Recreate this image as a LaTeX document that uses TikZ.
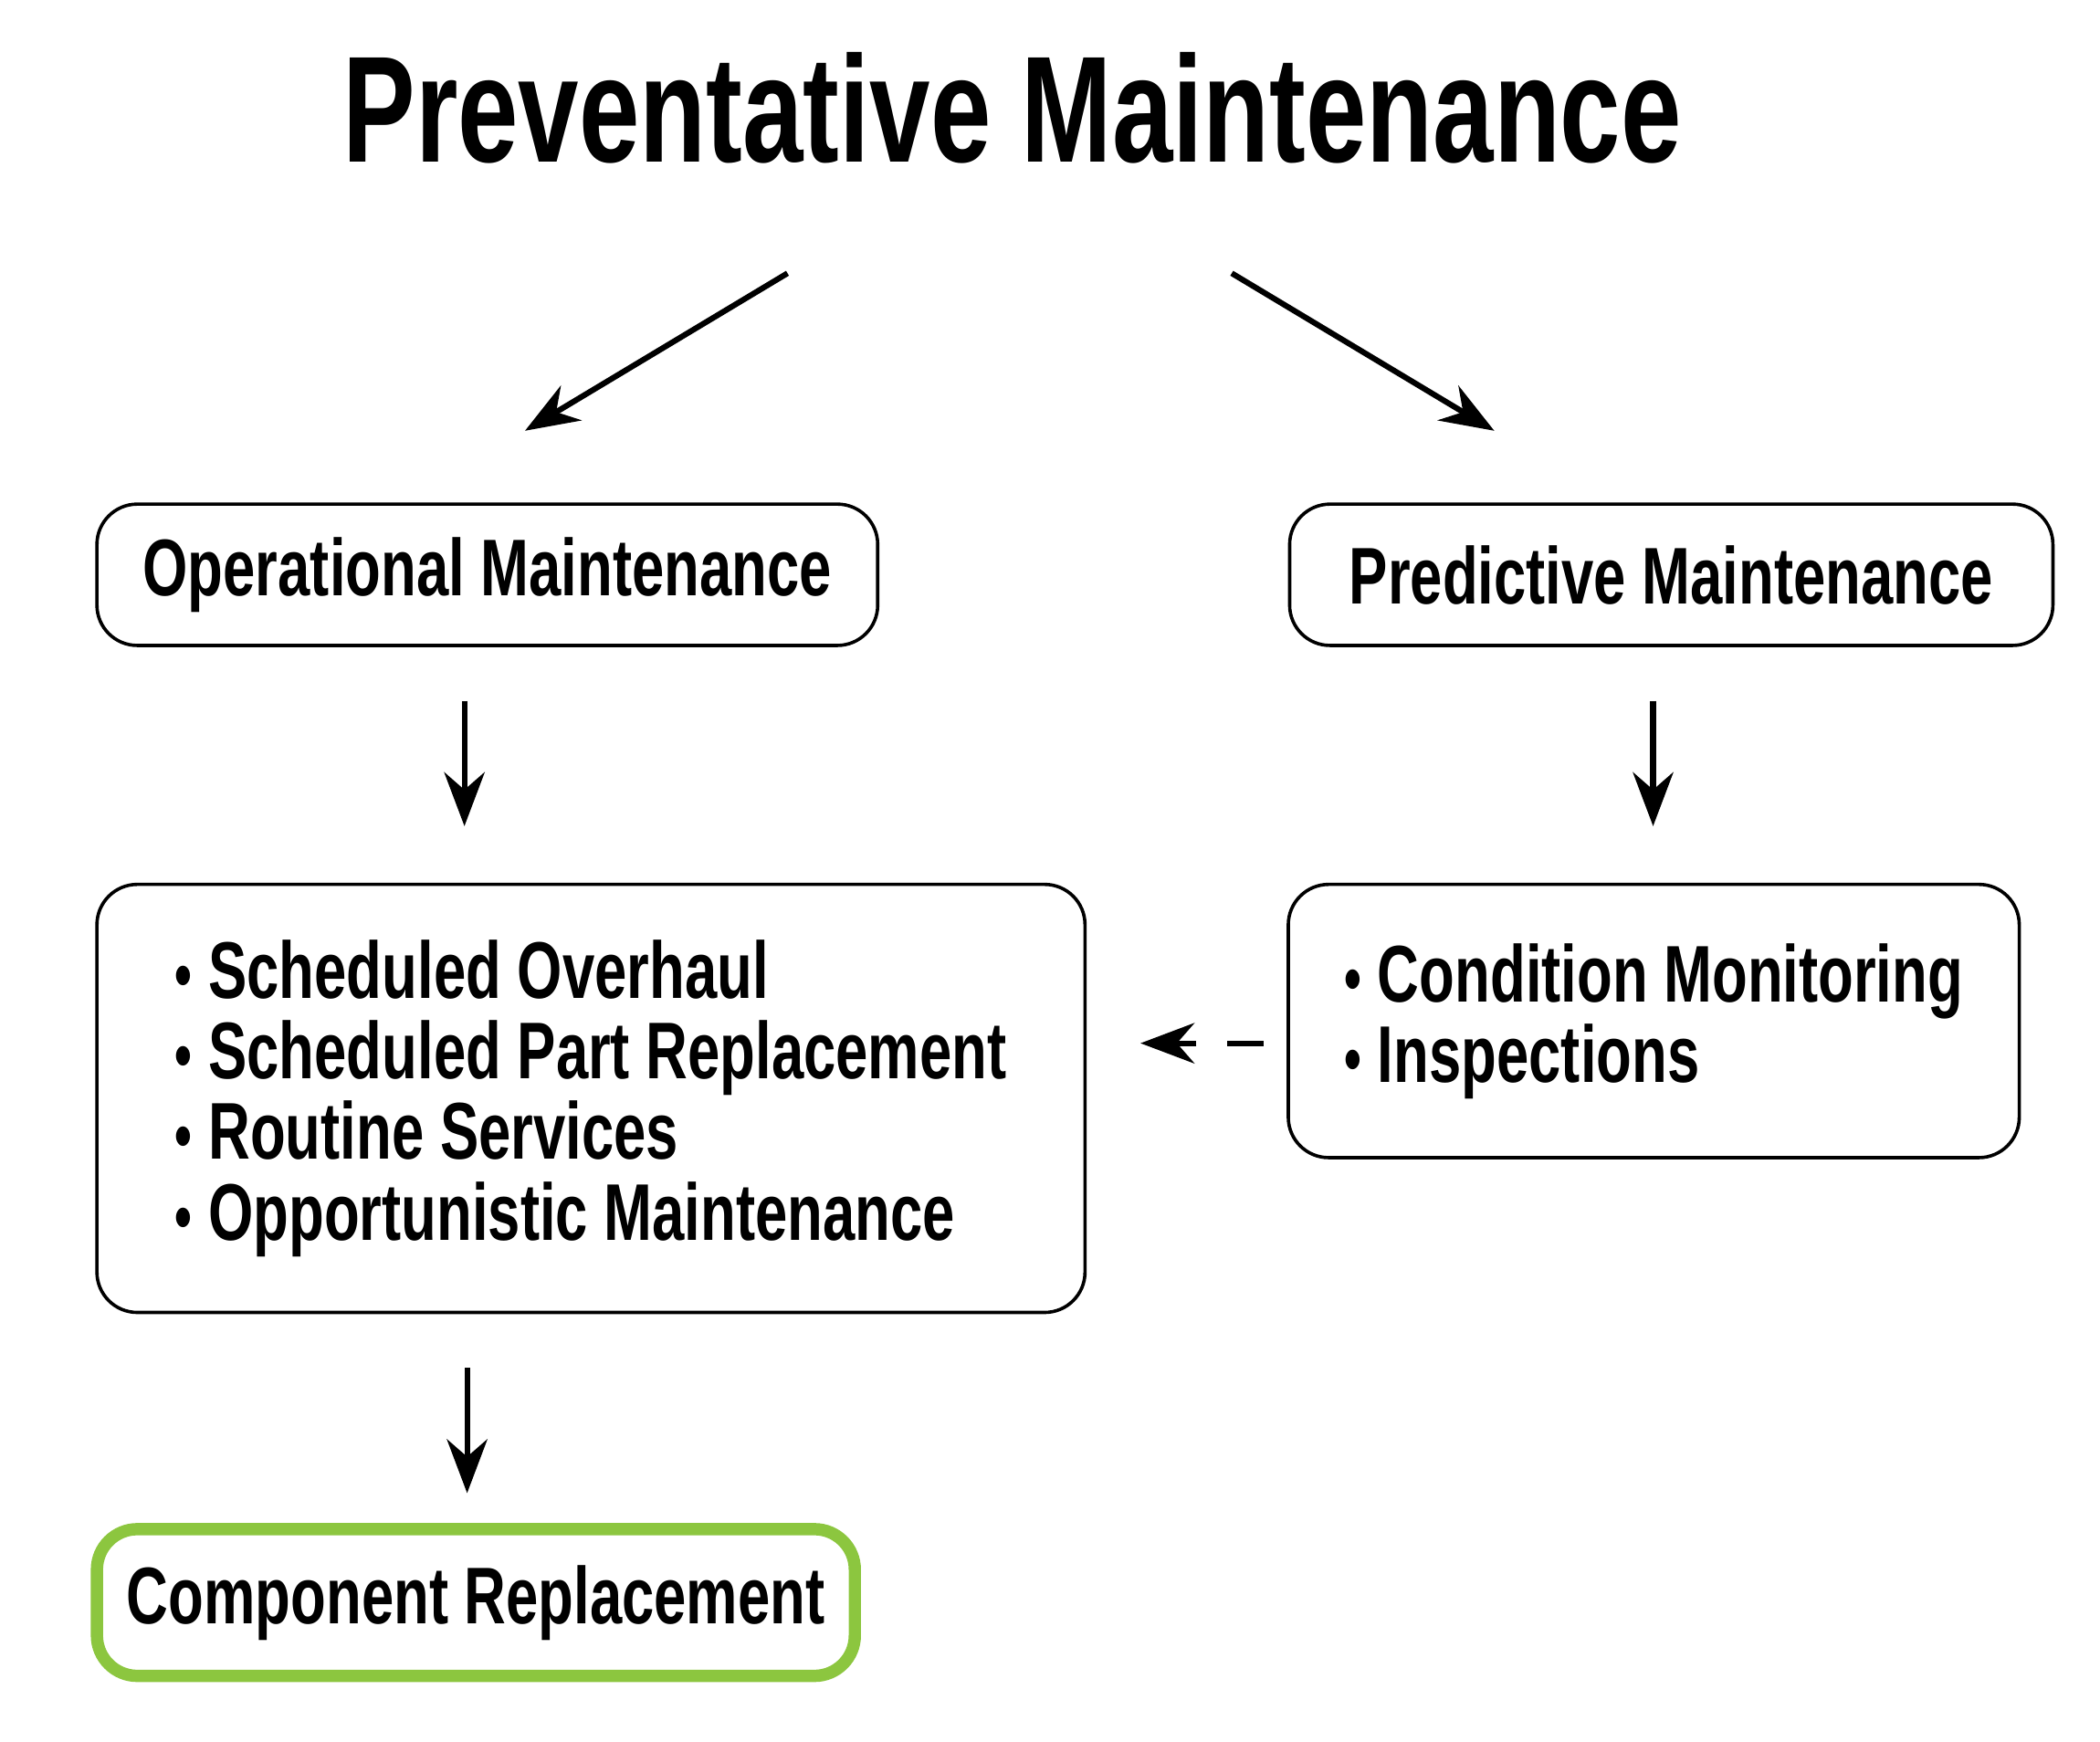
\documentclass[tikz,border=0pt]{standalone}
\usepackage{fontspec}
\setmainfont{Liberation Sans}[FakeStretch=0.72,BoldFont={* Bold},BoldFeatures={FakeStretch=0.72}]
\usetikzlibrary{arrows.meta}
\definecolor{leafgreen}{RGB}{140,198,63}
\newcommand{\blt}{{\Large\textbullet}\ }

\begin{document}
\begin{tikzpicture}[x = 1cm, y = -1cm, > = {Stealth[length=4mm, width=3mm]},
	box/.style = {rectangle, draw, rounded corners = 3mm, line width = 0.7pt, align = left,
		font = \bfseries\fontsize{17}{18}\selectfont},
	flow/.style = {->, line width = 1.2pt}]

	\useasboundingbox (0, 0) rectangle (15.6, 12.94);

	% Title

	\node[font = \bfseries\fontsize{32}{34}\selectfont] (title) at (7.52, 0.8) {Preventative Maintenance};

	% Boxes

	\node[box, minimum width = 5.8cm, minimum height = 1.05cm] (oper) at (3.62, 4.27) {Operational Maintenance};
	\node[box, minimum width = 5.67cm, minimum height = 1.05cm] (pred) at (12.415, 4.27) {Predictive Maintenance};
	\node[box, minimum width = 7.34cm, minimum height = 3.18cm,
		font = \bfseries\fontsize{17}{17}\selectfont] (sched) at (4.39, 8.16)
		{\blt Scheduled Overhaul\\ \blt Scheduled Part Replacement\\ \blt Routine Services\\ \blt Opportunistic Maintenance};
	\node[box, minimum width = 5.43cm, minimum height = 2.03cm,
		font = \bfseries\fontsize{17}{17}\selectfont] (cond) at (12.285, 7.585)
		{\blt Condition Monitoring\\ \blt Inspections};
	\node[box, draw = leafgreen, line width = 2.6pt, minimum width = 5.63cm, minimum height = 1.09cm] (comp) at (3.535, 11.905) {Component Replacement};

	% Arrows

	\coordinate (tl) at (5.85, 2.03);
	\coordinate (tr) at (9.15, 2.03);
	\draw[flow] (tl) -- (3.9, 3.2);
	\draw[flow] (tr) -- (11.1, 3.2);
	\draw[flow] ([yshift = -4mm] oper.south -| 3.45, 0) -- ++(0, 0.93);
	\draw[flow] ([yshift = -4mm] pred.south -| 12.28, 0) -- ++(0, 0.93);
	\draw[flow] ([yshift = -4mm] sched.south -| 3.47, 0) -- ++(0, 0.93);
	\draw[flow, dash pattern = on 2.7mm off 2.3mm] ([xshift = -1.7mm] cond.west |- 0, 7.75) -- ([xshift = 4mm] sched.east |- 0, 7.75);

\end{tikzpicture}
\end{document}
